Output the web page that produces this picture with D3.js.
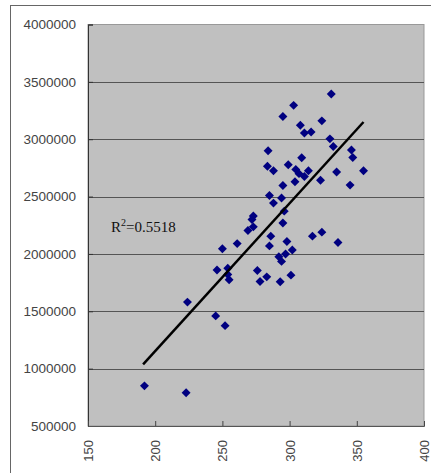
<!DOCTYPE html>
<html><head><meta charset="utf-8">
<script src="https://cdn.jsdelivr.net/npm/d3@7"></script>
<style>html,body{margin:0;padding:0;background:#fff;}svg{display:block;}</style>
</head><body>
<svg id="c" width="431" height="473"></svg>
<script>
const xTicks = [150, 200, 250, 300, 350, 400];
const yTicks = [500000, 1000000, 1500000, 2000000, 2500000, 3000000, 3500000, 4000000];
const xValues = [192,223,224,245,252,246,254,254,255,250,261,269,273,272,273,276,278,283,293,301,286,285,298,302,292,294,297,317,324,336,295,304,323,345,285,288,294,296,295,284,283.5,288,299,304.6,307,314,311,335,355,309,346,347,330,332.5,324,308,311,316,295,303,331];
const yValues = [850000,790000,1580000,1460000,1375000,1860000,1875000,1820000,1775000,2045000,2090000,2205000,2330000,2300000,2236000,1855000,1760000,1800000,1757000,1815000,2155000,2070000,2108000,2035000,1975000,1935000,2000000,2155000,2190000,2100000,2597000,2630000,2642000,2600000,2510000,2443000,2487000,2373000,2270000,2900000,2765000,2725000,2778000,2737000,2700000,2725000,2675000,2714000,2725000,2839000,2906000,2841000,3003000,2937000,3160000,3122000,3054000,3063000,3198000,3295000,3394000];
const trendX = [191, 355];
const trendY = [1038000, 3150000];
const r2Label = "0.5518";

const svg = d3.select("#c");
const x = d3.scaleLinear().domain([150, 400]).range([88, 424]);
const y = d3.scaleLinear().domain([500000, 4000000]).range([426, 24.5]);

// outer frame (top and left)
svg.append("line").attr("x1",10).attr("x2",431).attr("y1",5.5).attr("y2",5.5).attr("stroke","#666").attr("stroke-width",1);
svg.append("line").attr("x1",10.5).attr("x2",10.5).attr("y1",5).attr("y2",473).attr("stroke","#666").attr("stroke-width",1);

// plot area
svg.append("rect").attr("x",x(150)).attr("y",y(4000000)).attr("width",x(400)-x(150)).attr("height",y(500000)-y(4000000))
  .attr("fill","#c0c0c0").attr("stroke","#999").attr("stroke-width",1);

// gridlines
svg.append("g").selectAll("line").data(yTicks.filter(d=>d>500000 && d<4000000)).join("line")
  .attr("x1",x(150)).attr("x2",x(400)).attr("y1",d=>Math.round(y(d))+0.5).attr("y2",d=>Math.round(y(d))+0.5)
  .attr("stroke","#555").attr("stroke-width",1);

// axes
const yAxis = d3.axisLeft(y).tickValues(yTicks).tickSize(-5).tickPadding(12).tickFormat(d3.format("d"));
const gy = svg.append("g").attr("transform",`translate(${x(150)},0)`).call(yAxis);
gy.select(".domain").attr("stroke","#333");
gy.selectAll(".tick line").attr("stroke","#333");
gy.selectAll("text").attr("fill","#444").attr("font-family","Liberation Sans, Arial, sans-serif").attr("font-size","13.5px");

const xAxis = d3.axisBottom(x).tickValues(xTicks).tickSize(-5).tickFormat(d3.format("d"));
const gx = svg.append("g").attr("transform",`translate(0,${y(500000)})`).call(xAxis);
gx.select(".domain").attr("stroke","#555");
gx.selectAll(".tick line").attr("stroke","#444");
gx.selectAll("text").attr("fill","#444").attr("font-family","Liberation Sans, Arial, sans-serif").attr("font-size","13px")
  .attr("transform","translate(0,14) rotate(-90)").attr("text-anchor","end").attr("x",0).attr("y",0).attr("dy","0.35em");

// points
const pts = xValues.map((v,i)=>({x:v,y:yValues[i]}));
const sym = d3.symbol().type(d3.symbolSquare).size(40);
svg.append("g").selectAll("path").data(pts).join("path")
  .attr("d",sym).attr("transform",d=>`translate(${x(d.x)},${y(d.y)}) rotate(45)`).attr("fill","#000080");

// trend line
const line = d3.line().x(d=>x(d[0])).y(d=>y(d[1]));
svg.append("path").datum(trendX.map((v,i)=>[v,trendY[i]])).attr("d",line)
  .attr("stroke","#000").attr("stroke-width",2.5).attr("fill","none");

// R2 label
const t = svg.append("text").attr("x",111).attr("y",232).attr("font-family","Liberation Serif, Times New Roman, serif").attr("font-size","15px").attr("fill","#111");
t.append("tspan").text("R");
t.append("tspan").text("2").attr("font-size","10px").attr("dy","-6");
t.append("tspan").text("=" + r2Label).attr("dy","6");
</script>
</body></html>
